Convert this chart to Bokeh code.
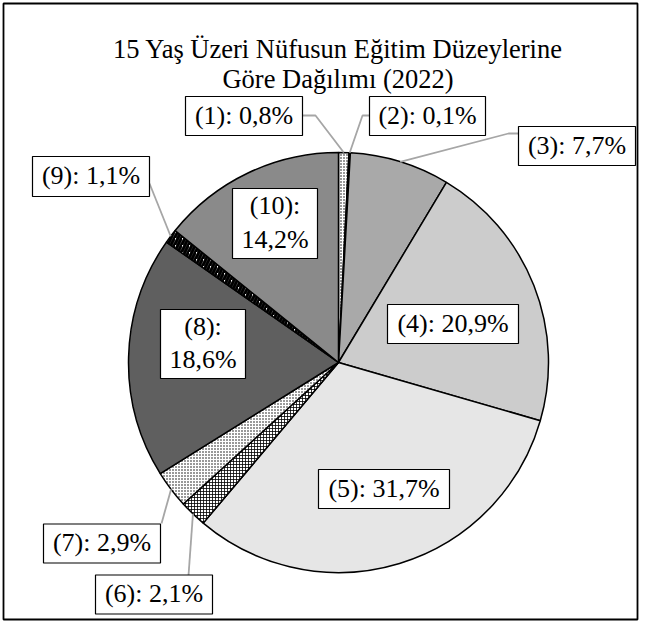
import math
from bokeh.plotting import figure
from bokeh.models import Range1d
from bokeh.core.properties import value
from bokeh.embed import file_html
from bokeh.resources import INLINE

# ---------------- data ----------------
title_lines = ["15 Yaş Üzeri Nüfusun Eğitim Düzeylerine", "Göre Dağılımı (2022)"]
codes = ["(1)", "(2)", "(3)", "(4)", "(5)", "(6)", "(7)", "(8)", "(9)", "(10)"]
shares = [0.8, 0.1, 7.7, 20.9, 31.7, 2.1, 2.9, 18.6, 1.1, 14.2]
two_line = [False, False, False, False, False, False, False, True, False, True]

# ---------------- styles / layout ----------------
fills = ["white", "#3a3a3a", "#a9a9a9", "#cccccc", "#e6e6e6",
         "white", "white", "#5f5f5f", "white", "#8a8a8a"]
hatches = [".", " ", " ", " ", " ", "+", ".", " ", "/", " "]
hatch_scales = [3, 12, 12, 12, 12, 3, 3, 12, 7, 12]
hatch_weights = [1.0, 1, 1, 1, 1, 0.8, 0.9, 1, 3, 1]

FONT = "Liberation Serif"
W, H = 640, 622
CX, CY, R = 338, 362, 210          # pixel coordinates of pie centre, radius

# label boxes (pixels): centre x, centre y, width, height
boxes = [
    (243.5, 115.5, 117, 39),
    (427.0, 115.5, 116, 39),
    (576.5, 145.5, 117, 39),
    (452.5, 323.5, 131, 39),
    (383.5, 488.5, 131, 39),
    (153.5, 594.0, 117, 39),
    (101.5, 543.0, 117, 39),
    (202.5, 343.5, 85, 69),
    (90.5, 176.0, 117, 40),
    (274.5, 223.0, 85, 70),
]
# leader line start points (pixels), ending on the slice's arc
leader_starts = {
    0: [(302, 115), (315, 115)],
    1: [(369, 115), (362, 115)],
    2: [(518, 133), (508, 133)],
    5: [(188, 575)],
    6: [(161, 523)],
    8: [(149, 183)],
}

# ---------------- figure ----------------
p = figure(width=W, height=H, output_backend="svg", toolbar_location=None,
           x_range=Range1d(0, W), y_range=Range1d(-H, 0),
           x_axis_type=None, y_axis_type=None, min_border=0)
p.grid.visible = False
p.outline_line_color = None
p.background_fill_color = "white"
p.border_fill_color = "white"

# outer frame
p.rect(x=W / 2, y=-H / 2, width=W - 6, height=H - 6, fill_color=None,
       line_color="black", line_width=1.8)

total = sum(shares)
cum = 0.0
anchors = []
for i, s in enumerate(shares):
    c0 = cum / total
    c1 = (cum + s) / total
    cum += s
    a0 = math.pi / 2 - 2 * math.pi * c0
    a1 = math.pi / 2 - 2 * math.pi * c1
    p.wedge(x=CX, y=-CY, radius=R, start_angle=a1, end_angle=a0,
            fill_color=fills[i], line_color="black", line_width=1.5,
            hatch_pattern=hatches[i], hatch_color="black",
            hatch_scale=hatch_scales[i], hatch_weight=hatch_weights[i])
    am = (a0 + a1) / 2
    anchors.append((CX + R * math.cos(am), -CY + R * math.sin(am)))

# leader lines
for i, pts in leader_starts.items():
    xs = [x for x, _ in pts] + [anchors[i][0]]
    ys = [-y for _, y in pts] + [anchors[i][1]]
    p.line(xs, ys, line_color="#a6a6a6", line_width=1.8)

# label boxes and texts
for i, (bx, by, bw, bh) in enumerate(boxes):
    p.rect(x=bx, y=-by, width=bw, height=bh, fill_color="white",
           line_color="black", line_width=1.2)
    pct = f"{shares[i]:.1f}".replace(".", ",") + "%"
    txt = f"{codes[i]}:\n{pct}" if two_line[i] else f"{codes[i]}: {pct}"
    p.text(x=[bx], y=[-by + 1], text=[txt], text_font=value(FONT),
           text_font_size="26px", text_align="center", text_baseline="middle",
           text_line_height=1.15, text_color="black")

# title
for k, line in enumerate(title_lines):
    p.text(x=[337.5], y=[-(48 + 30 * k)], text=[line], text_font=value(FONT),
           text_font_size="26.5px", text_align="center", text_baseline="alphabetic",
           text_color="black")

open("out.html", "w").write(file_html(p, INLINE))
